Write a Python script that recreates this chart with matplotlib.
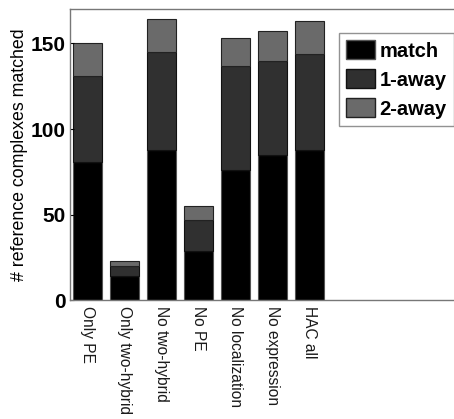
import numpy as np
import matplotlib
matplotlib.use('Agg')
import matplotlib.pyplot as plt
from matplotlib.patches import Patch

# data
categories = ['Only PE', 'Only two-hybrid', 'No two-hybrid', 'No PE',
              'No localization', 'No expression', 'HAC all']
match = [81, 14, 88, 29, 76, 85, 88]
one_away = [50, 6, 57, 18, 61, 55, 56]
two_away = [19, 3, 19, 8, 16, 17, 19]
y_ticks = [0, 50, 100, 150]

plt.rcParams['font.family'] = ['Liberation Sans', 'DejaVu Sans']

fig = plt.figure(figsize=(4.54, 4.19), dpi=100)
# axes run past the right edge of the picture, like the reference crop
ax = fig.add_axes([0.154, 0.283, 0.90, 0.695])

x = np.arange(1, len(categories) + 1)
m = np.array(match)
o = np.array(one_away)
t = np.array(two_away)
w = 0.8
ax.bar(x, m, w, color='#000000', edgecolor='#555555', linewidth=0.8, label='match')
ax.bar(x, o, w, bottom=m, color='#303030', edgecolor='#111111', linewidth=0.8, label='1-away')
ax.bar(x, t, w, bottom=m + o, color='#6a6a6a', edgecolor='#222222', linewidth=0.8, label='2-away')

# keep 37 px per category, as in the reference
ax.set_xlim(0.52, 0.52 + 0.90 * 454 / 37.0)
ax.set_ylim(0, 170)
ax.set_yticks(y_ticks)
ax.set_yticklabels([str(v) for v in y_ticks], fontsize=15, fontweight='bold')
ax.set_xticks(x)
ax.set_xticklabels(categories, rotation=270, fontsize=11.2, color='#1a1a1a')
ax.tick_params(axis='x', length=0, pad=4)
ax.tick_params(axis='y', length=3, direction='in', pad=3)
ax.set_ylabel('# reference complexes matched', fontsize=12.8, labelpad=2)
for s in ax.spines.values():
    s.set_color('#777777')
    s.set_linewidth(1.0)

handles = [Patch(facecolor='#000000', edgecolor='#555555', label='match'),
           Patch(facecolor='#303030', edgecolor='#111111', label='1-away'),
           Patch(facecolor='#6a6a6a', edgecolor='#222222', label='2-away')]
leg = ax.legend(handles=handles, loc='upper left', bbox_to_anchor=(339 / 454, 1 - 33 / 419),
                bbox_transform=fig.transFigure,
                prop={'size': 14.5, 'weight': 'bold'}, fancybox=False,
                handlelength=1.45, handleheight=1.1, handletextpad=0.2,
                labelspacing=0.42, borderpad=0.35, borderaxespad=0)
leg.get_frame().set_edgecolor('#777777')
leg.get_frame().set_linewidth(1.0)

fig.savefig('out.png', dpi=100)
